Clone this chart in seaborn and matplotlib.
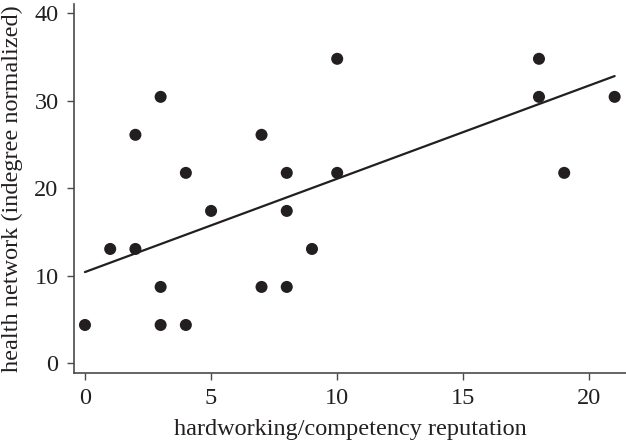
import numpy as np
import pandas as pd
import matplotlib
matplotlib.use("Agg")
import matplotlib.pyplot as plt
import seaborn as sns

# datos
reputation = [0, 1, 2, 2, 3, 3, 3, 4, 4, 5, 7, 7, 8, 8, 8, 9, 10, 10, 18, 18, 19, 21]
indegree = [4.35, 13.04, 26.09, 13.04, 30.43, 8.70, 4.35, 21.74, 4.35, 17.39,
            26.09, 8.70, 21.74, 17.39, 8.70, 13.04, 34.78, 21.74, 34.78, 30.43,
            21.74, 30.43]
# recta de ajuste
fit_intercept = 10.4
fit_slope = 1.067
fit_x = [0, 21]

data = pd.DataFrame({"rep": reputation, "deg": indegree})
line = pd.DataFrame({"rep": fit_x})
line["deg"] = fit_intercept + fit_slope * line["rep"]

sns.set_style("ticks")
plt.rcParams["font.family"] = ["Liberation Serif", "DejaVu Serif"]

fig = plt.figure(figsize=(6.26, 4.41), dpi=100)
ax = fig.add_axes([0.118, 0.154, 0.882, 0.838])

sns.lineplot(data=line, x="rep", y="deg", color="#231f20", linewidth=1.6, ax=ax)
sns.scatterplot(data=data, x="rep", y="deg", color="#231f20", s=75,
                edgecolor="none", ax=ax, zorder=3)

ax.set_xlim(-0.44, 21.45)
ax.set_ylim(-1.15, 41.1)
ax.set_xticks([0, 5, 10, 15, 20])
ax.set_yticks([0, 10, 20, 30, 40])
ax.set_xlabel("hardworking/competency reputation", fontsize=17.5,
              color="#231f20", labelpad=7)
ax.set_ylabel("health network (indegree normalized)", fontsize=17.5,
              color="#231f20", labelpad=8)
ax.tick_params(labelsize=17.5, length=5, width=1, pad=6,
               colors="#4a4a4a", labelcolor="#231f20")
for s in ["top", "right"]:
    ax.spines[s].set_visible(False)
for s in ["left", "bottom"]:
    ax.spines[s].set_color("#4a4a4a")
    ax.spines[s].set_linewidth(1.2)

plt.savefig("out.png", dpi=100)
